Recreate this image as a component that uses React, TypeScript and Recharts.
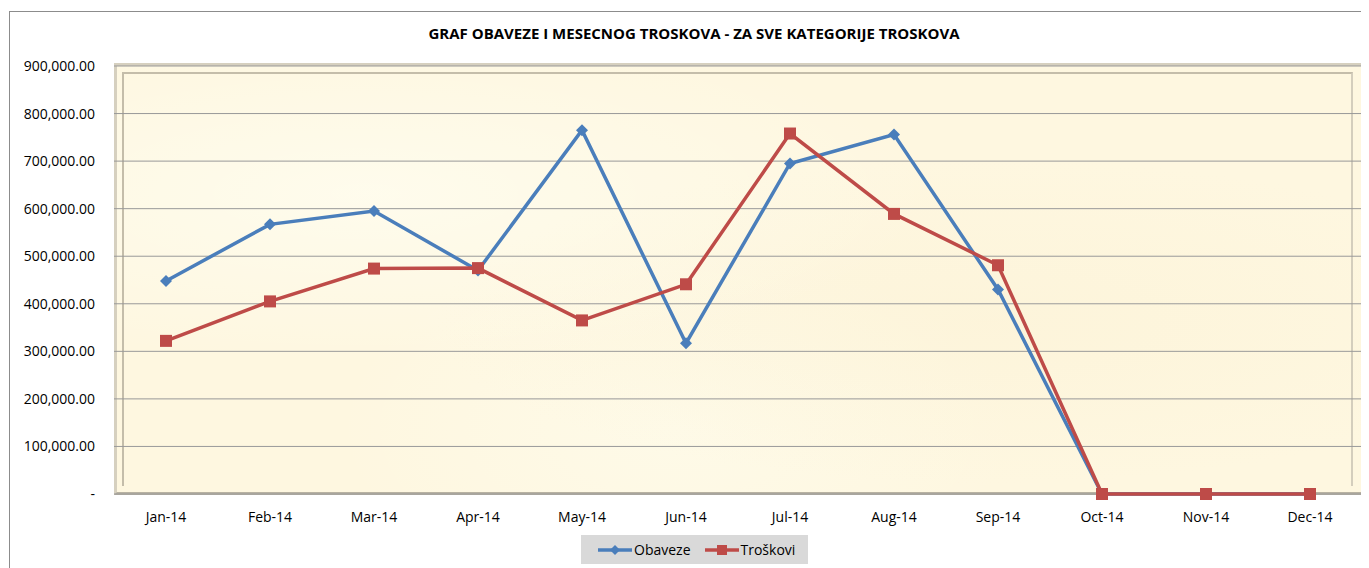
import { LineChart, Line, XAxis, YAxis, CartesianGrid } from "recharts";

const months = ["Jan-14", "Feb-14", "Mar-14", "Apr-14", "May-14", "Jun-14", "Jul-14", "Aug-14", "Sep-14", "Oct-14", "Nov-14", "Dec-14"];
const obaveze = [448000, 567000, 595000, 470000, 765000, 317000, 695000, 756000, 430000, 0, 0, 0];
const troskovi = [322000, 405000, 474000, 475000, 365000, 441000, 758000, 589000, 481000, 0, 0, 0];
const yTicks = [0, 100000, 200000, 300000, 400000, 500000, 600000, 700000, 800000, 900000];

const BLUE = "#4a7ebb";
const RED = "#be4b48";
const FONT = "'Open Sans', sans-serif";

const data = months.map((m, i) => ({ month: m, obaveze: obaveze[i], troskovi: troskovi[i] }));

const fmt = (v: number) =>
  v === 0 ? "-" : v.toLocaleString("en-US", { minimumFractionDigits: 2, maximumFractionDigits: 2 });

function Diamond({ cx, cy, color, r = 6 }: { cx: number; cy: number; color: string; r?: number }) {
  return <path d={`M${cx},${cy - r}L${cx + r},${cy}L${cx},${cy + r}L${cx - r},${cy}Z`} fill={color} />;
}

function Square({ cx, cy, color, s = 6 }: { cx: number; cy: number; color: string; s?: number }) {
  return <rect x={cx - s} y={cy - s} width={s * 2} height={s * 2} fill={color} />;
}

const series = [
  { key: "obaveze", name: "Obaveze", color: BLUE, shape: "diamond" },
  { key: "troskovi", name: "Troškovi", color: RED, shape: "square" }
];

// parchment look for the plot area
const parchment =
  "radial-gradient(ellipse at 20% 30%, rgba(255,255,245,0.6), transparent 40%)," +
  "radial-gradient(ellipse at 70% 60%, rgba(250,238,205,0.3), transparent 45%)," +
  "radial-gradient(ellipse at 45% 85%, rgba(255,253,240,0.5), transparent 35%)," +
  "#fef7e0";

export default function App() {
  return (
    <div style={{ position: "relative", width: 1361, height: 560, overflow: "hidden", background: "#fff" }}>
      {/* outer chart border */}
      <div style={{ position: "absolute", left: 1, top: 3, width: 2000, height: 1000, border: "1px solid #8c8c8c" }} />
      {/* plot frame */}
      <div
        style={{
          position: "absolute",
          left: 106,
          top: 55,
          width: 1249,
          height: 432,
          boxSizing: "border-box",
          background: parchment,
          borderTop: "3px solid #d6d0bf",
          borderLeft: "3px solid #d6d0bf",
          borderRight: "2px solid #3a3a3a",
          borderBottom: "3px solid #b8b2a2"
        }}
      />
      <div
        style={{
          position: "absolute",
          left: 114,
          top: 64,
          width: 1231,
          height: 414,
          boxSizing: "border-box",
          borderTop: "2px solid #c4bdaa",
          borderLeft: "2px solid #c4bdaa",
          borderRight: "2px solid #d4cebd"
        }}
      />
      <div
        style={{
          position: "absolute",
          left: 0,
          top: 15,
          width: 1372,
          textAlign: "center",
          fontFamily: FONT,
          fontWeight: 700,
          fontSize: 15,
          color: "#000"
        }}
      >
        GRAF OBAVEZE I MESECNOG TROSKOVA - ZA SVE KATEGORIJE TROSKOVA
      </div>
      <div style={{ position: "absolute", left: 0, top: 0 }}>
        <LineChart width={1361} height={560} data={data} margin={{ top: 58, right: 7, left: 6, bottom: 44 }}>
          <CartesianGrid horizontal vertical={false} stroke="#999999" strokeWidth={1} />
          <XAxis
            dataKey="month"
            axisLine={false}
            tickLine={false}
            padding={{ left: 52, right: 52 }}
            tickMargin={12}
            tick={{ fill: "#000", fontSize: 14, fontFamily: FONT }}
            interval={0}
          />
          <YAxis
            domain={[0, 900000]}
            ticks={yTicks}
            tickFormatter={fmt}
            axisLine={false}
            tickLine={false}
            width={100}
            tickMargin={13}
            tick={{ fill: "#000", fontSize: 14, fontFamily: FONT }}
          />
          <Line
            dataKey="obaveze"
            stroke={BLUE}
            strokeWidth={3.5}
            isAnimationActive={false}
            dot={(p: any) => <Diamond key={`o${p.index}`} cx={p.cx} cy={p.cy} color={BLUE} />}
            activeDot={false}
          />
          <Line
            dataKey="troskovi"
            stroke={RED}
            strokeWidth={3.5}
            isAnimationActive={false}
            dot={(p: any) => <Square key={`t${p.index}`} cx={p.cx} cy={p.cy} color={RED} />}
            activeDot={false}
          />
        </LineChart>
      </div>
      {/* legend */}
      <div
        style={{
          position: "absolute",
          left: 573,
          top: 527,
          width: 227,
          height: 29,
          background: "#d9d9d9",
          display: "flex",
          alignItems: "center",
          paddingLeft: 17,
          boxSizing: "border-box",
          fontFamily: FONT,
          fontSize: 14,
          color: "#000"
        }}
      >
        {series.map((s) => (
          <div key={s.key} style={{ display: "flex", alignItems: "center", marginRight: 14 }}>
            <svg width={34} height={14}>
              <line x1={0} y1={7} x2={34} y2={7} stroke={s.color} strokeWidth={3.5} />
              {s.shape === "diamond" ? (
                <Diamond cx={17} cy={7} color={s.color} r={5} />
              ) : (
                <Square cx={17} cy={7} color={s.color} s={5} />
              )}
            </svg>
            <span style={{ marginLeft: 2 }}>{s.name}</span>
          </div>
        ))}
      </div>
    </div>
  );
}
